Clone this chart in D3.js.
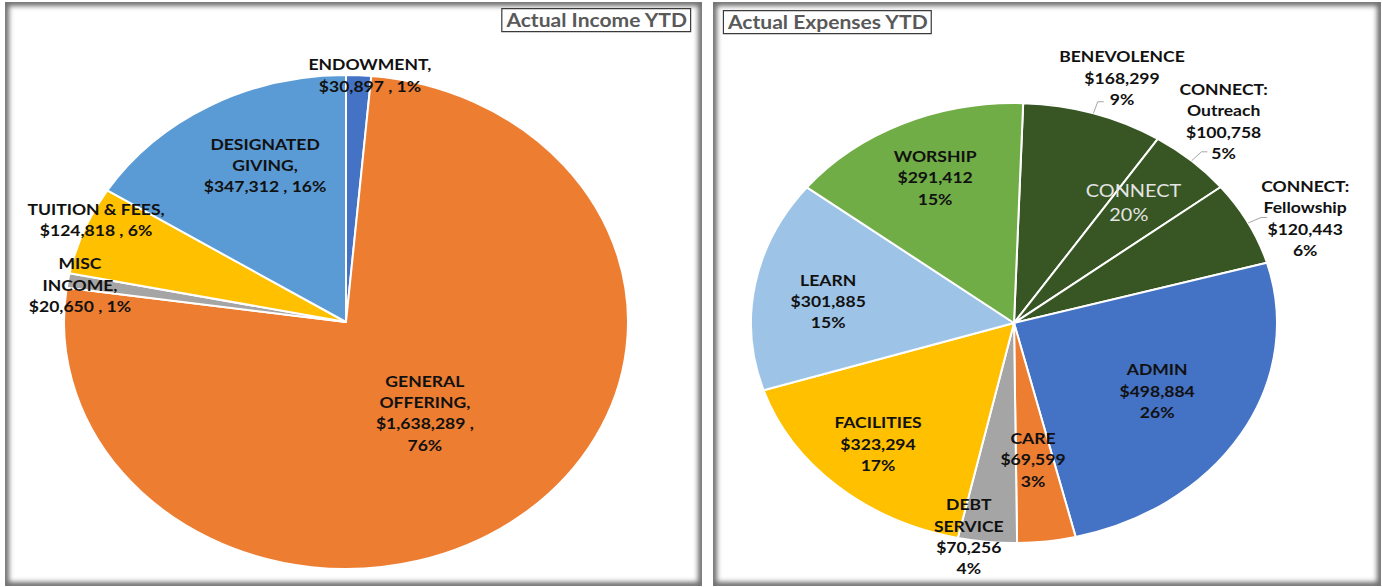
<!DOCTYPE html>
<html>
<head>
<meta charset="utf-8">
<script src="https://cdn.jsdelivr.net/npm/d3@7"></script>
<style>
  body { margin: 0; background: #fff; }
  svg { display: block; }
  text { font-family: Lato, 'Open Sans', sans-serif; }
</style>
</head>
<body>
<svg id="chart"></svg>
<script>
// income data, order is clockwise from 12 o'clock
var incomeCategories = ['ENDOWMENT', 'GENERAL OFFERING', 'MISC INCOME', 'TUITION & FEES', 'DESIGNATED GIVING'];
var incomeValues = [30897, 1638289, 20650, 124818, 347312];
var incomeLabels = [
  ['ENDOWMENT,', '$30,897 , 1%'],
  ['GENERAL', 'OFFERING,', '$1,638,289 ,', '76%'],
  ['MISC', 'INCOME,', '$20,650 , 1%'],
  ['TUITION & FEES,', '$124,818 , 6%'],
  ['DESIGNATED', 'GIVING,', '$347,312 , 16%']
];
var incomeColors = ['#4472C4', '#ED7D31', '#A5A5A5', '#FFC000', '#5B9BD5'];

// expense data
var expenseCategories = ['BENEVOLENCE', 'CONNECT: Outreach', 'CONNECT: Fellowship', 'ADMIN', 'CARE', 'DEBT SERVICE', 'FACILITIES', 'LEARN', 'WORSHIP'];
var expenseValues = [168299, 100758, 120443, 498884, 69599, 70256, 323294, 301885, 291412];
var expenseLabels = [
  ['BENEVOLENCE', '$168,299', '9%'],
  ['CONNECT:', 'Outreach', '$100,758', '5%'],
  ['CONNECT:', 'Fellowship', '$120,443', '6%'],
  ['ADMIN', '$498,884', '26%'],
  ['CARE', '$69,599', '3%'],
  ['DEBT', 'SERVICE', '$70,256', '4%'],
  ['FACILITIES', '$323,294', '17%'],
  ['LEARN', '$301,885', '15%'],
  ['WORSHIP', '$291,412', '15%']
];
var expenseColors = ['#375623', '#375623', '#375623', '#4472C4', '#ED7D31', '#A5A5A5', '#FFC000', '#9DC3E6', '#70AD47'];
var connectGroup = ['BENEVOLENCE', 'CONNECT: Outreach', 'CONNECT: Fellowship'];

document.addEventListener('DOMContentLoaded', () => {
  var W = 1382, H = 587;
  var stretch = 1.17; // the original picture is stretched sideways
  var svg = d3.select('#chart').attr('width', W).attr('height', H);
  var defs = svg.append('defs');

  defs.append('filter').attr('id', 'soft')
    .attr('x', '-5%').attr('y', '-5%').attr('width', '110%').attr('height', '110%')
    .append('feGaussianBlur').attr('stdDeviation', 2.8);

  var panel = (id, x, y, w, h) => {
    defs.append('clipPath').attr('id', id)
      .append('rect').attr('x', x).attr('y', y).attr('width', w).attr('height', h);
    svg.append('rect').attr('x', x).attr('y', y).attr('width', w).attr('height', h).attr('fill', '#fff');
    svg.append('g').attr('clip-path', `url(#${ id })`)
      .append('rect')
        .attr('x', x).attr('y', y).attr('width', w).attr('height', h)
        .attr('fill', 'none').attr('stroke', '#6e6e6e').attr('stroke-width', 8)
        .attr('filter', 'url(#soft)');
  };

  panel('p1', 5, 2, 697, 584);
  panel('p2', 713, 2, 668, 584);

  var title = (text, x, y, anchor) => {
    var g = svg.append('g').attr('transform', `translate(${ x }, ${ y }) scale(${ stretch }, 1)`);
    var t = g.append('text')
      .attr('text-anchor', anchor)
      .attr('font-size', 18).attr('font-weight', 700)
      .attr('fill', '#595959')
      .text(text);
    var b = t.node().getBBox();
    g.insert('rect', 'text')
      .attr('x', b.x - 3).attr('y', b.y - 1)
      .attr('width', b.width + 6).attr('height', b.height + 2)
      .attr('fill', '#fff').attr('stroke', '#3a3a3a').attr('stroke-width', 1.2)
      .attr('vector-effect', 'non-scaling-stroke');
  };

  title('Actual Income YTD', 687, 27, 'end');
  title('Actual Expenses YTD', 728, 29, 'start');

  var deg = Math.PI / 180;

  var drawPie = (o) => {
    var pie = d3.pie().sort(null).value(d => d)
      .startAngle(o.start * deg).endAngle(o.start * deg + 2 * Math.PI);
    var arcs = pie(o.values);
    var arc = d3.arc().innerRadius(0).outerRadius(o.ry);
    var polar = (a, r) => [o.cx + Math.sin(a) * o.rx * r, o.cy - Math.cos(a) * o.ry * r];

    svg.append('g')
      .attr('transform', `translate(${ o.cx }, ${ o.cy }) scale(${ o.rx / o.ry }, 1)`)
      .selectAll('path')
      .data(arcs)
      .enter().append('path')
        .attr('d', arc)
        .attr('fill', (d, i) => o.colors[i])
        .attr('stroke', '#fff')
        .attr('stroke-width', 2)
        .attr('stroke-linejoin', 'round')
        .attr('vector-effect', 'non-scaling-stroke');

    var mid = d => (d.startAngle + d.endAngle) / 2;

    // leader lines for labels outside the pie
    (o.leaders || []).forEach(i => {
      var d = arcs[i];
      var a = polar(mid(d), 1.0);
      var b = polar(mid(d), 1.055);
      svg.append('path')
        .attr('d', d3.line()([a, b, [b[0] + 6, b[1]]]))
        .attr('fill', 'none').attr('stroke', '#a6a6a6').attr('stroke-width', 1);
    });

    var lh = 21.3;
    arcs.forEach((d, i) => {
      var p = polar(mid(d) + o.labelTurn[i] * deg, o.labelR[i]);
      var lines = o.labels[i];
      var y0 = -(lines.length - 1) * lh / 2;
      var t = svg.append('g')
        .attr('transform', `translate(${ p[0] }, ${ p[1] }) scale(${ stretch }, 1)`)
        .append('text')
          .attr('text-anchor', 'middle')
          .attr('font-size', 15).attr('font-weight', 700)
          .attr('fill', '#111');
      lines.forEach((s, k) => {
        t.append('tspan').attr('x', 0).attr('y', y0 + k * lh).attr('dy', '0.35em').text(s);
      });
    });

    return { arcs: arcs, polar: polar };
  };

  drawPie({
    cx: 346, cy: 322, rx: 282, ry: 247, start: 0,
    values: incomeValues, colors: incomeColors, labels: incomeLabels,
    labelR: [1.0, 0.464, 0.955, 0.977, 0.694],
    labelTurn: [2.3, 1.4, -0.7, 3.1, 4.5]
  });

  var ex = drawPie({
    cx: 1014, cy: 323, rx: 263, ry: 220, start: 2,
    values: expenseValues, colors: expenseColors, labels: expenseLabels,
    labelR: [1.185, 1.213, 1.204, 0.627, 0.627, 0.988, 0.756, 0.713, 0.724],
    labelTurn: [2.7, -1.4, 3.9, -0.5, 0.5, 4.2, 0.9, -2.4, 0.5],
    leaders: [0, 1, 2]
  });

  // CONNECT group callout
  var idx = connectGroup.map(c => expenseCategories.indexOf(c));
  var groupArcs = idx.map(i => ex.arcs[i]);
  var total = d3.sum(expenseValues);
  var share = d3.sum(idx, i => expenseValues[i]) / total;
  var gMid = (d3.min(groupArcs, d => d.startAngle) + d3.max(groupArcs, d => d.endAngle)) / 2;
  var gp = ex.polar(gMid + 1.2 * deg, 0.704);
  var ct = svg.append('g')
    .attr('transform', `translate(${ gp[0] }, ${ gp[1] }) scale(${ stretch }, 1)`)
    .append('text')
      .attr('text-anchor', 'middle')
      .attr('font-size', 17)
      .attr('fill', '#e4e4e4');
  ct.append('tspan').attr('x', 2).attr('y', -12).attr('dy', '0.35em').text('CONNECT');
  ct.append('tspan').attr('x', -2).attr('y', 12).attr('dy', '0.35em').text(d3.format('.0%')(share));
});
</script>
</body>
</html>
